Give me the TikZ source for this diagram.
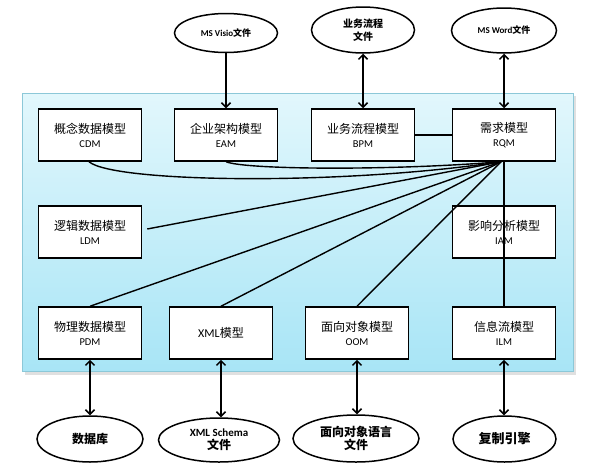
\documentclass[tikz,border=0pt]{standalone}
\usepackage{fontspec}
\setmainfont{Carlito}
\newfontfamily\cjk{Noto Sans CJK SC}
\usetikzlibrary{arrows.meta,shapes.geometric}
\definecolor{paneltop}{RGB}{226,247,252}
\definecolor{panelbot}{RGB}{168,229,246}
\definecolor{panelrim}{RGB}{140,200,216}
\newcommand\mlab[2]{#1\\[-1pt]{\normalfont\fontsize{10.5}{12}\selectfont #2}}
\begin{document}
\begin{tikzpicture}[x=1pt,y=-1pt,
  model/.style={draw,line width=1.5pt,fill=white,minimum width=103pt,minimum height=52pt,
    inner sep=0pt,align=center,font=\cjk\fontsize{12}{15}\selectfont},
  ext/.style={draw,ellipse,line width=1.5pt,fill=white,inner sep=0pt,align=center,
    font=\bfseries\fontsize{12}{13}\selectfont},
  link/.style={line width=1.4pt},
  tip/.style={line width=1.5pt,-{Straight Barb[length=4.5pt,width=9pt]}},
  both/.style={line width=1.5pt,{Straight Barb[length=4.5pt,width=9pt]}-{Straight Barb[length=4.5pt,width=9pt]}}
]
\useasboundingbox (0,0) rectangle (589,469);
\fill[black,opacity=0.12] (25,96) rectangle (576,375);
\shade[top color=paneltop,bottom color=panelbot] (22,93) rectangle (573,371);
\draw[panelrim,line width=0.8pt] (22,93) rectangle (573,371);

% model boxes
\node[model] (CDM) at (90,135) {\mlab{概念数据模型}{CDM}};
\node[model] (EAM) at (226,135) {\mlab{企业架构模型}{EAM}};
\node[model] (BPM) at (363,135) {\mlab{业务流程模型}{BPM}};
\node[model] (RQM) at (504,135) {\mlab{需求模型}{RQM}};
\node[model] (LDM) at (90,232) {\mlab{逻辑数据模型}{LDM}};
\node[model] (IAM) at (504,232) {\mlab{影响分析模型}{IAM}};
\node[model] (PDM) at (90,333) {\mlab{物理数据模型}{PDM}};
\node[model] (XML) at (221,333) {{\normalfont\fontsize{12}{15}\selectfont XML}模型};
\node[model] (OOM) at (357,333) {\mlab{面向对象模型}{OOM}};
\node[model] (ILM) at (504,333) {\mlab{信息流模型}{ILM}};

% external files
\node[ext,minimum width=103pt,minimum height=39pt] (visio) at (226,33)
  {\fontsize{9}{10}\selectfont MS Visio{\cjk 文件}};
\node[ext,minimum width=103pt,minimum height=46pt] (bpf) at (363,30)
  {\cjk\fontsize{10}{12}\selectfont 业务流程\\\cjk\fontsize{10}{12}\selectfont 文件};
\node[ext,minimum width=105pt,minimum height=45pt] (word) at (504,30.5)
  {\fontsize{9}{10}\selectfont MS Word{\cjk 文件}};
\node[ext,minimum width=106pt,minimum height=46pt] (db) at (90,439)
  {\cjk 数据库};
\node[ext,minimum width=121pt,minimum height=44pt] (xsd) at (219,440)
  {\fontsize{11}{13}\selectfont XML Schema\\{\cjk\fontsize{12}{13}\selectfont 文件}};
\node[ext,minimum width=126pt,minimum height=47pt] (ool) at (356,438.5)
  {\cjk\fontsize{12}{13}\selectfont 面向对象语言\\\cjk\fontsize{12}{13}\selectfont 文件};
\node[ext,minimum width=103pt,minimum height=46pt] (rep) at (504.5,439)
  {\cjk\fontsize{13}{14}\selectfont 复制引擎};

% connectors inside the panel
\coordinate (hub) at ([xshift=-3pt]RQM.south);
\draw[link] (BPM.east) -- (RQM.west);
\draw[link] ([xshift=-1pt]CDM.south) .. controls +(25,21) and +(-160,24) .. (hub);
\draw[link] (EAM.south) .. controls +(20,8) and +(-110,9) .. (hub);
\draw[link] ([xshift=5pt,yshift=3pt]LDM.east) -- (hub);
\draw[link] (PDM.north) -- (hub);
\draw[link] (XML.north) -- (hub);
\draw[link] (OOM.north) -- (hub);
\draw[link] (RQM.south) -- (ILM.north);

% arrows to files
\draw[tip] (visio.south) -- (visio.south |- EAM.north);
\draw[both] (bpf.south) -- (bpf.south |- BPM.north);
\draw[both] (word.south) -- (word.south |- RQM.north);
\draw[both] (PDM.south) -- (PDM.south |- db.north);
\draw[both] (XML.south) -- (XML.south |- xsd.north);
\draw[both] (OOM.south) -- (OOM.south |- ool.north);
\draw[both] (ILM.south) -- (ILM.south |- rep.north);
\end{tikzpicture}
\end{document}
